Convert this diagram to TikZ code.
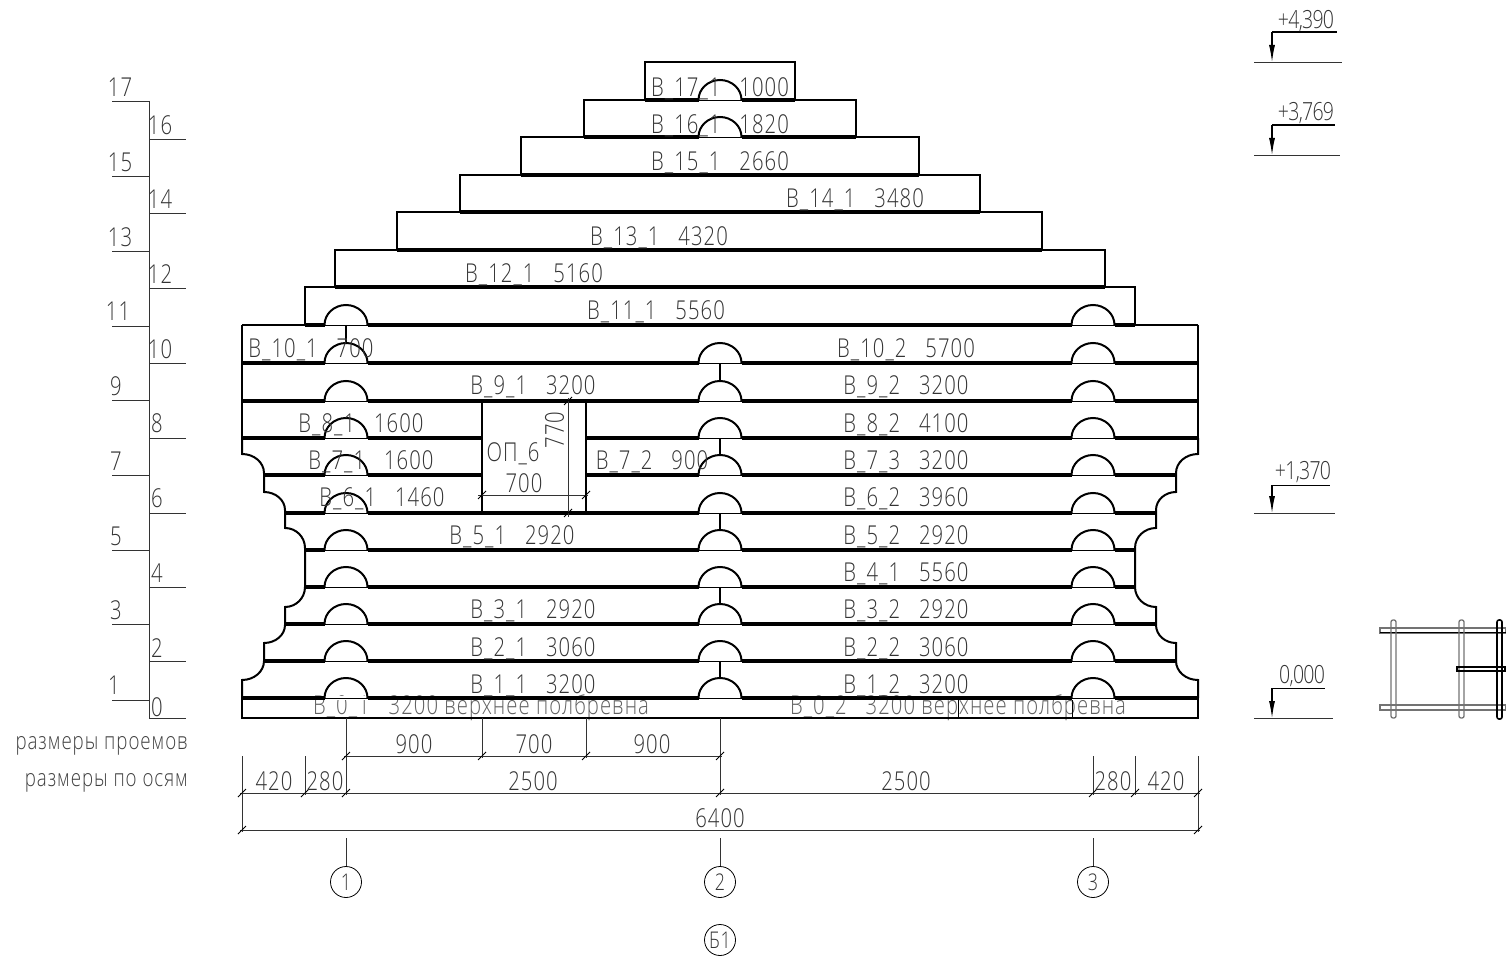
\documentclass[tikz,border=0pt]{standalone}
\usepackage{fontspec}
\setmainfont[FakeStretch=0.78,LetterSpace=4,UprightFont=* Light]{Open Sans}
\usetikzlibrary{arrows.meta}
\tikzset{
  wall/.style={line width=2pt},
  seam/.style={line width=3.8pt},
  thin line/.style={line width=0.9pt},
  dimline/.style={line width=0.8pt,black!80},
  txt/.style={font=\fontsize{26}{26}\selectfont,text=black!80,inner sep=0pt,yshift=-1.5pt},
  half txt/.style={txt,text=black!62,yshift=-0.5pt},
  level txt/.style={txt,font=\fontsize{25}{25}\selectfont\addfontfeature{LetterSpace=-3}},
  small txt/.style={font=\fontsize{24}{24}\selectfont,text=black!75,inner sep=0pt,yshift=-1.5pt},
  axisring/.style={circle,draw,line width=0.8pt,minimum size=31pt,inner sep=0pt,font=\fontsize{23}{23}\selectfont,text=black!80},
  levelarrow/.style={line width=1.1pt,-{Latex[length=17pt,width=6pt]}},
  plan/.style={line width=1.3pt,black!55},
  notch/.pic={
    \draw[white,line width=4.2pt] (-21.5,0) -- (21.5,0);
    \draw[line width=0.9pt] (-21.5,0) -- (21.5,0);
    \draw[line width=2pt] (-21.5,0) arc[start angle=180,end angle=360,x radius=21.5,y radius=20];
  },
  tick/.pic={\draw[line width=0.9pt] (-4,4) -- (4,-4);}
}
\begin{document}
\begin{tikzpicture}[x=1pt,y=-1pt]
  \useasboundingbox (0,0) rectangle (1506,957);
  % bottom half log labels
  \node[half txt] (b01) at (481,706) {B\_0\_1\ \ \ 3200 верхнее полбревна};
  \node[half txt] (b02) at (958,706) {B\_0\_2\ \ \ 3200 верхнее полбревна};
  % upper logs
  \draw[wall] (645,62) rectangle (795,100);
  \draw[wall] (584,100) rectangle (856,137);
  \draw[wall] (521,137) rectangle (919,175);
  \draw[wall] (460,175) rectangle (980,212);
  \draw[wall] (397,212) rectangle (1042,250);
  \draw[wall] (335,250) rectangle (1105,287);
  \draw[wall] (305,287) rectangle (1135,325);
  \draw[wall] (242,325) -- (1198,325);
  \draw[wall] (242,325) -- (242,438);
  \draw[wall] (1198,325) -- (1198,438);
  % wall ends
  \draw[wall] (242,438) -- (242,454) arc[start angle=270,end angle=360,x radius=22,y radius=19]
    -- (264,492) arc[start angle=270,end angle=360,x radius=21,y radius=18]
    -- (285,528) arc[start angle=270,end angle=360,x radius=20,y radius=20]
    -- (305,587) arc[start angle=0,end angle=90,x radius=20,y radius=20]
    -- (285,625) arc[start angle=0,end angle=90,x radius=21,y radius=18]
    -- (264,661) arc[start angle=0,end angle=90,x radius=22,y radius=19] -- (242,698);
  \draw[wall] (1198,438) -- (1198,454) arc[start angle=270,end angle=180,x radius=22,y radius=19]
    -- (1176,492) arc[start angle=270,end angle=180,x radius=20,y radius=18]
    -- (1156,528) arc[start angle=270,end angle=180,x radius=21,y radius=20]
    -- (1135,587) arc[start angle=180,end angle=90,x radius=21,y radius=20]
    -- (1156,625) arc[start angle=180,end angle=90,x radius=20,y radius=18]
    -- (1176,661) arc[start angle=180,end angle=90,x radius=22,y radius=19] -- (1198,698);
  % bottom half log
  \draw[line width=2.2pt] (242,698) rectangle (1198,718);
  \draw[thin line] (958,698) -- (958,718);
  \draw[thin line] (1072,698) -- (1072,718);
  % seams
  \begin{scope}[seam]
    \draw (645,100) -- (795,100);
    \draw (584,137) -- (856,137);
    \draw (521,175) -- (919,175);
    \draw (460,212) -- (980,212);
    \draw (397,250) -- (1042,250);
    \draw (335,287) -- (1105,287);
    \draw (305,325) -- (1135,325);
    \draw (242,363) -- (1198,363);
    \draw (242,401) -- (1198,401);
    \draw (242,438) -- (482,438);
    \draw (586,438) -- (1198,438);
    \draw (264,475) -- (482,475);
    \draw (586,475) -- (1176,475);
    \draw (285,513) -- (1156,513);
    \draw (305,550) -- (1135,550);
    \draw (305,587) -- (1135,587);
    \draw (285,624) -- (1156,624);
    \draw (264,661) -- (1176,661);
    \draw (242,698) -- (1198,698);
  \end{scope}
  % opening
  \draw[wall] (482,401) rectangle (586,513);
  % notches
  \path (720,100) pic {notch} (720,137) pic {notch};
  \path (346,325) pic {notch} (1093,325) pic {notch};
  \path (346,363) pic {notch} (720,363) pic {notch} (1093,363) pic {notch};
  \path (346,401) pic {notch} (720,401) pic {notch} (1093,401) pic {notch};
  \path (346,438) pic {notch} (720,438) pic {notch} (1093,438) pic {notch};
  \path (346,475) pic {notch} (720,475) pic {notch} (1093,475) pic {notch};
  \path (346,513) pic {notch} (720,513) pic {notch} (1093,513) pic {notch};
  \path (346,550) pic {notch} (720,550) pic {notch} (1093,550) pic {notch};
  \path (346,587) pic {notch} (720,587) pic {notch} (1093,587) pic {notch};
  \path (346,624) pic {notch} (720,624) pic {notch} (1093,624) pic {notch};
  \path (346,661) pic {notch} (720,661) pic {notch} (1093,661) pic {notch};
  \path (346,698) pic {notch} (720,698) pic {notch} (1093,698) pic {notch};
  % dowels
  \begin{scope}[line width=1.3pt]
    \draw (346,325) -- (346,343);
    \draw (720,363) -- (720,381);
    \draw (720,438) -- (720,455);
    \draw (720,513) -- (720,530);
    \draw (720,587) -- (720,604);
    \draw (720,661) -- (720,678);
  \end{scope}
  % storey scale
  \draw[dimline] (149,101) -- (149,718);
  \begin{scope}[dimline]
    \draw (112,101) -- (149,101);
    \draw (149,139) -- (186,139);
    \draw (112,176) -- (149,176);
    \draw (149,213) -- (186,213);
    \draw (112,251) -- (149,251);
    \draw (149,288) -- (186,288);
    \draw (112,326) -- (149,326);
    \draw (149,363) -- (186,363);
    \draw (112,400) -- (149,400);
    \draw (149,438) -- (186,438);
    \draw (112,475) -- (149,475);
    \draw (149,513) -- (186,513);
    \draw (112,550) -- (149,550);
    \draw (149,587) -- (186,587);
    \draw (112,624) -- (149,624);
    \draw (149,661) -- (186,661);
    \draw (112,700) -- (149,700);
    \draw (149,718) -- (186,718);
  \end{scope}
  \node[txt] (n17) at (120,86) {17};
  \node[txt] (n16) at (160,124) {16};
  \node[txt] (n15) at (120,161) {15};
  \node[txt] (n14) at (160,198) {14};
  \node[txt] (n13) at (120,236) {13};
  \node[txt] (n12) at (160,273) {12};
  \node[txt] (n11) at (118,310) {11};
  \node[txt] (n10) at (160,348) {10};
  \node[txt] (n9) at (116,385) {9};
  \node[txt] (n8) at (157,422) {8};
  \node[txt] (n7) at (116,460) {7};
  \node[txt] (n6) at (157,497) {6};
  \node[txt] (n5) at (116,535) {5};
  \node[txt] (n4) at (157,572) {4};
  \node[txt] (n3) at (116,609) {3};
  \node[txt] (n2) at (157,647) {2};
  \node[txt] (n1) at (114,684) {1};
  \node[txt] (n0) at (157,706) {0};
  % log labels
  \node[txt] (b171) at (720,87) {B\_17\_1\ \ \ 1000};
  \node[txt] (b161) at (720,124) {B\_16\_1\ \ \ 1820};
  \node[txt] (b151) at (720,161) {B\_15\_1\ \ \ 2660};
  \node[txt] (b141) at (855,198) {B\_14\_1\ \ \ 3480};
  \node[txt] (b131) at (659,236) {B\_13\_1\ \ \ 4320};
  \node[txt] (b121) at (534,273) {B\_12\_1\ \ \ 5160};
  \node[txt] (b111) at (656,310) {B\_11\_1\ \ \ 5560};
  \node[txt] (b101) at (311,348) {B\_10\_1\ \ \ 700};
  \node[txt] (b102) at (906,348) {B\_10\_2\ \ \ 5700};
  \node[txt] (b91) at (533,385) {B\_9\_1\ \ \ 3200};
  \node[txt] (b92) at (906,385) {B\_9\_2\ \ \ 3200};
  \node[txt] (b81) at (361,423) {B\_8\_1\ \ \ 1600};
  \node[txt] (b82) at (906,423) {B\_8\_2\ \ \ 4100};
  \node[txt] (b71) at (371,460) {B\_7\_1\ \ \ 1600};
  \node[txt] (b72) at (652,460) {B\_7\_2\ \ \ 900};
  \node[txt] (b73) at (906,460) {B\_7\_3\ \ \ 3200};
  \node[txt] (b61) at (382,497) {B\_6\_1\ \ \ 1460};
  \node[txt] (b62) at (906,497) {B\_6\_2\ \ \ 3960};
  \node[txt] (b51) at (512,535) {B\_5\_1\ \ \ 2920};
  \node[txt] (b52) at (906,535) {B\_5\_2\ \ \ 2920};
  \node[txt] (b41) at (906,572) {B\_4\_1\ \ \ 5560};
  \node[txt] (b31) at (533,609) {B\_3\_1\ \ \ 2920};
  \node[txt] (b32) at (906,609) {B\_3\_2\ \ \ 2920};
  \node[txt] (b21) at (533,647) {B\_2\_1\ \ \ 3060};
  \node[txt] (b22) at (906,647) {B\_2\_2\ \ \ 3060};
  \node[txt] (b11) at (533,684) {B\_1\_1\ \ \ 3200};
  \node[txt] (b12) at (906,684) {B\_1\_2\ \ \ 3200};
  % opening size
  \node[txt] (op6) at (513,452) {ОП\_6};
  \node[txt] (opw) at (524,482) {700};
  \node[txt,rotate=90,xshift=1.5pt,yshift=1.5pt] (oph) at (556,430) {770};
  \draw[dimline] (478,495) -- (588,495);
  \draw[dimline] (568,398) -- (568,517);
  \path (482,495) pic {tick} (586,495) pic {tick} (568,401) pic {tick} (568,513) pic {tick};
  % dimensions
  \begin{scope}[dimline]
    \draw (344,756) -- (722,756);
    \draw (240,793) -- (1200,793);
    \draw (240,830) -- (1200,830);
    \draw (346,718) -- (346,795);
    \draw (482,718) -- (482,758);
    \draw (586,718) -- (586,758);
    \draw (720,718) -- (720,795);
    \draw (242,756) -- (242,832);
    \draw (305,756) -- (305,795);
    \draw (1093,756) -- (1093,795);
    \draw (1135,756) -- (1135,795);
    \draw (1198,756) -- (1198,832);
  \end{scope}
  \path (346,756) pic {tick} (482,756) pic {tick} (586,756) pic {tick} (720,756) pic {tick};
  \path (242,793) pic {tick} (305,793) pic {tick} (346,793) pic {tick} (720,793) pic {tick}
    (1093,793) pic {tick} (1135,793) pic {tick} (1198,793) pic {tick};
  \path (242,830) pic {tick} (1198,830) pic {tick};
  \node[txt] (d900a) at (414,743) {900};
  \node[txt] (d700) at (534,743) {700};
  \node[txt] (d900b) at (652,743) {900};
  \node[txt] (d420a) at (274,780) {420};
  \node[txt] (d280a) at (325,780) {280};
  \node[txt] (d2500a) at (533,780) {2500};
  \node[txt] (d2500b) at (906,780) {2500};
  \node[txt] (d280b) at (1113,780) {280};
  \node[txt] (d420b) at (1166,780) {420};
  \node[txt] (d6400) at (720,817) {6400};
  \node[small txt,anchor=east] (proem) at (188,744) {размеры проемов};
  \node[small txt,anchor=east] (osi) at (188,781) {размеры по осям};
  % axes
  \node[axisring] (ax1) at (346,882) {1};
  \node[axisring] (ax2) at (720,882) {2};
  \node[axisring] (ax3) at (1093,882) {3};
  \node[axisring] (axb1) at (720,940) {Б1};
  \coordinate (t1) at (346,838);
  \coordinate (t2) at (720,838);
  \coordinate (t3) at (1093,838);
  \draw[dimline] (t1) -- (ax1);
  \draw[dimline] (t2) -- (ax2);
  \draw[dimline] (t3) -- (ax3);
  % level marks
  \draw[dimline] (1254,62) -- (1342,62);
  \draw[dimline] (1254,155) -- (1340,155);
  \draw[dimline] (1254,513) -- (1335,513);
  \draw[dimline] (1254,718) -- (1333,718);
  \draw[line width=1.1pt] (1272,32) -- (1337,32);
  \draw[line width=1.1pt] (1272,125) -- (1335,125);
  \draw[line width=1pt] (1272,485) -- (1330,485);
  \draw[line width=1pt] (1272,688) -- (1325,688);
  \draw[levelarrow] (1272,32) -- (1272,62);
  \draw[levelarrow] (1272,125) -- (1272,155);
  \draw[levelarrow] (1272,485) -- (1272,513);
  \draw[levelarrow] (1272,688) -- (1272,718);
  \node[level txt] (lv1) at (1306,20) {+4,390};
  \node[level txt] (lv2) at (1306,112) {+3,769};
  \node[level txt] (lv3) at (1303,471) {+1,370};
  \node[level txt] (lv4) at (1302,675) {0,000};
  % small plan
  \draw[plan] (1380,628) rectangle (1506,633);
  \draw[line width=1.3pt] (1380,632.5) -- (1506,632.5);
  \draw[plan] (1380,705) rectangle (1506,710);
  \draw[plan,rounded corners=2pt] (1391,620) rectangle (1396,718);
  \draw[plan,rounded corners=2pt] (1459,620) rectangle (1464,718);
  \draw[line width=1.6pt,rounded corners=2pt] (1497,620) rectangle (1502,719);
  \draw[line width=1.1pt] (1457,667) rectangle (1505,671);
\end{tikzpicture}
\end{document}
